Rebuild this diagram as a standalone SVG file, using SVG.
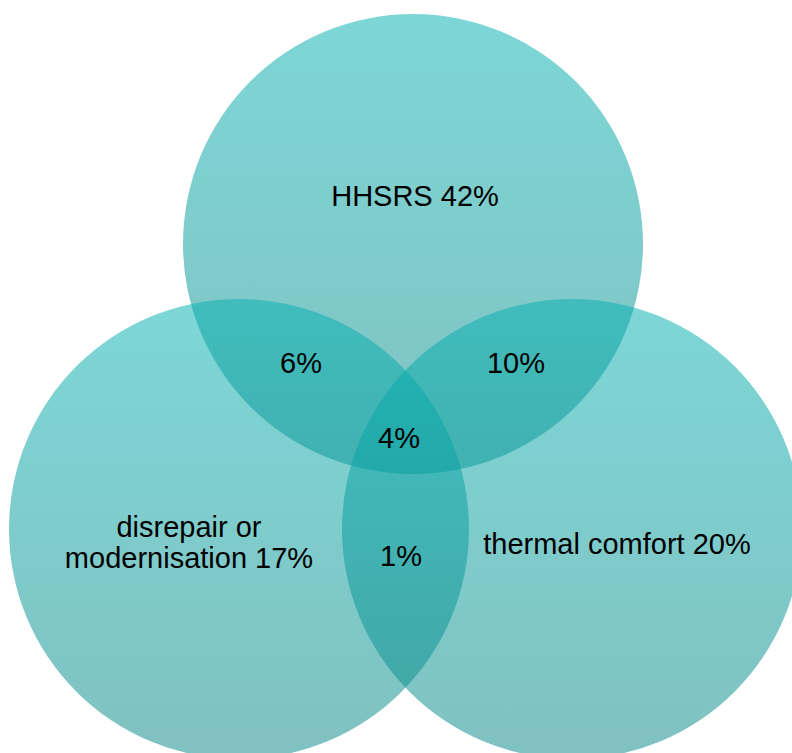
<svg xmlns="http://www.w3.org/2000/svg" width="792" height="753" viewBox="0 0 792 753">
<defs>
<linearGradient id="g" x1="0" y1="0" x2="0" y2="1">
<stop offset="0" stop-color="rgb(6,177,177)"/>
<stop offset="1" stop-color="rgb(12,136,136)"/>
</linearGradient>
</defs>
<style>
.c{fill:url(#g);fill-opacity:0.52}
text{font-family:"Liberation Sans",Arial,sans-serif;font-size:29px;fill:#000;text-anchor:middle}
</style>
<rect width="792" height="753" fill="#fff"/>
<g id="hhsrs"><circle class="c" cx="413" cy="244" r="230"/></g>
<g id="disrepair"><circle class="c" cx="239" cy="529" r="230"/></g>
<g id="thermal"><circle class="c" cx="572" cy="529" r="230"/></g>
<g id="labels">
<text x="415" y="206">HHSRS 42%</text>
<text x="301" y="373">6%</text>
<text x="516" y="373">10%</text>
<text x="399" y="448">4%</text>
<text x="401" y="566">1%</text>
<text x="189" y="537">disrepair or</text>
<text x="189" y="568">modernisation 17%</text>
<text x="617" y="554">thermal comfort 20%</text>
</g>
</svg>
